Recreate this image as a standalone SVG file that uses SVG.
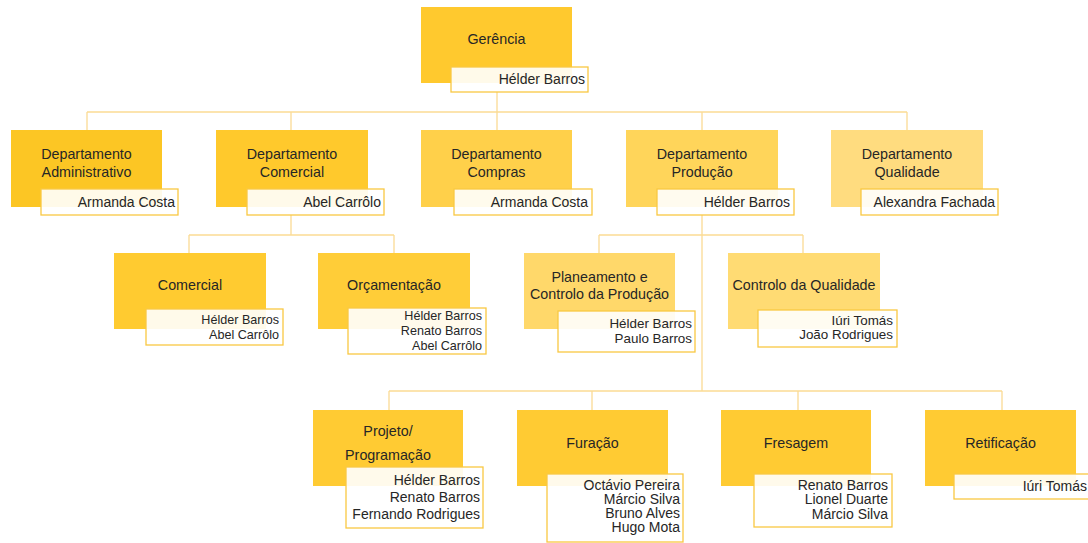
<svg xmlns="http://www.w3.org/2000/svg" width="1088" height="543" viewBox="0 0 1088 543">
<style>
.bg{fill:#ffffff}
.con{fill:none;stroke:#FBDB94;stroke-width:1.3}
.nm{fill:#ffffff;fill-opacity:0.9;stroke:#F9C843;stroke-width:1.3}
.t{font-family:"Liberation Sans",Arial,sans-serif;font-size:14.3px;fill:#262626;text-anchor:middle}
.n{font-family:"Liberation Sans",Arial,sans-serif;font-size:14px;fill:#262626;text-anchor:end}
.s{font-size:12.6px}
.m{font-size:13.4px}
</style>
<rect class="bg" x="0" y="0" width="1088" height="543"/>
<g id="connectors">
<path class="con" d="M497,92 V112 M87,112 H907 M87,112 V130 M291,112 V130 M497,112 V130 M702,112 V130 M907,112 V130"/>
<path class="con" d="M291,215 V235 M189,235 H394 M189,235 V253 M394,235 V253"/>
<path class="con" d="M702,215 V391 M599,235 H803 M599,235 V253 M803,235 V253"/>
<path class="con" d="M389,391 H1002 M389,391 V410 M592,391 V410 M798,391 V410 M1002,391 V410"/>
</g>
<g id="gerencia">
<rect x="421" y="7" width="151" height="76" fill="#FFC92E"/>
<text class="t" x="496.5" y="44">Gerência</text>
<rect class="nm" x="451" y="67" width="137" height="25"/>
<text class="n" x="585" y="84">Hélder Barros</text>
</g>
<g id="dep-administrativo">
<rect x="11" y="130" width="151" height="77" fill="#FCC624"/>
<text class="t" x="86.5" y="159">Departamento</text>
<text class="t" x="86.5" y="177">Administrativo</text>
<rect class="nm" x="41" y="189" width="137" height="26"/>
<text class="n" x="175" y="207">Armanda Costa</text>
</g>
<g id="dep-comercial">
<rect x="216" y="130" width="152" height="77" fill="#FFC92C"/>
<text class="t" x="292" y="159">Departamento</text>
<text class="t" x="292" y="177">Comercial</text>
<rect class="nm" x="247" y="189" width="137" height="26"/>
<text class="n" x="381" y="207">Abel Carrôlo</text>
</g>
<g id="dep-compras">
<rect x="421" y="130" width="151" height="77" fill="#FFD04A"/>
<text class="t" x="496.5" y="159">Departamento</text>
<text class="t" x="496.5" y="177">Compras</text>
<rect class="nm" x="454" y="189" width="138" height="26"/>
<text class="n" x="588" y="207">Armanda Costa</text>
</g>
<g id="dep-producao">
<rect x="626" y="130" width="152" height="77" fill="#FFD55A"/>
<text class="t" x="702" y="159">Departamento</text>
<text class="t" x="702" y="177">Produção</text>
<rect class="nm" x="657" y="189" width="137" height="26"/>
<text class="n" x="790" y="207">Hélder Barros</text>
</g>
<g id="dep-qualidade">
<rect x="831" y="130" width="152" height="77" fill="#FFDC7F"/>
<text class="t" x="907" y="159">Departamento</text>
<text class="t" x="907" y="177">Qualidade</text>
<rect class="nm" x="861" y="189" width="137" height="26"/>
<text class="n" x="995" y="207">Alexandra Fachada</text>
</g>
<g id="comercial">
<rect x="114" y="253" width="152" height="76" fill="#FFCB30"/>
<text class="t" x="190" y="290">Comercial</text>
<rect class="nm" x="146" y="309" width="137" height="36"/>
<text class="n s" x="279" y="324">Hélder Barros</text>
<text class="n s" x="279" y="339">Abel Carrôlo</text>
</g>
<g id="orcamentacao">
<rect x="318" y="253" width="152" height="76" fill="#FFCD38"/>
<text class="t" x="394" y="290">Orçamentação</text>
<rect class="nm" x="348" y="308" width="138" height="46"/>
<text class="n s" x="482" y="320">Hélder Barros</text>
<text class="n s" x="482" y="335">Renato Barros</text>
<text class="n s" x="482" y="350">Abel Carrôlo</text>
</g>
<g id="planeamento">
<rect x="524" y="253" width="151" height="76" fill="#FFD86A"/>
<text class="t" x="599.5" y="282">Planeamento e</text>
<text class="t" x="599.5" y="299">Controlo da Produção</text>
<rect class="nm" x="558" y="311" width="137" height="41"/>
<text class="n m" x="692" y="328">Hélder Barros</text>
<text class="n m" x="692" y="343">Paulo Barros</text>
</g>
<g id="controlo-qualidade">
<rect x="728" y="253" width="152" height="76" fill="#FFDB73"/>
<text class="t" x="804" y="290">Controlo da Qualidade</text>
<rect class="nm" x="758" y="310" width="139" height="37"/>
<text class="n m" x="893" y="325">Iúri Tomás</text>
<text class="n m" x="893" y="339">João Rodrigues</text>
</g>
<g id="projeto">
<rect x="313" y="410" width="150" height="76" fill="#FFCB33"/>
<text class="t" x="388" y="436">Projeto/</text>
<text class="t" x="388" y="460">Programação</text>
<rect class="nm" x="346" y="467" width="137" height="61"/>
<text class="n" x="480" y="485">Hélder Barros</text>
<text class="n" x="480" y="502">Renato Barros</text>
<text class="n" x="480" y="519">Fernando Rodrigues</text>
</g>
<g id="furacao">
<rect x="517" y="410" width="151" height="76" fill="#FFCB33"/>
<text class="t" x="592.5" y="448">Furação</text>
<rect class="nm" x="547" y="474" width="136" height="68"/>
<text class="n" x="680" y="490">Octávio Pereira</text>
<text class="n" x="680" y="504">Márcio Silva</text>
<text class="n" x="680" y="518">Bruno Alves</text>
<text class="n" x="680" y="532">Hugo Mota</text>
</g>
<g id="fresagem">
<rect x="721" y="410" width="150" height="76" fill="#FFCB33"/>
<text class="t" x="796" y="448">Fresagem</text>
<rect class="nm" x="754" y="474" width="138" height="53"/>
<text class="n" x="888" y="490">Renato Barros</text>
<text class="n" x="888" y="504">Lionel Duarte</text>
<text class="n" x="888" y="519">Márcio Silva</text>
</g>
<g id="retificacao">
<rect x="925" y="410" width="151" height="76" fill="#FFCB33"/>
<text class="t" x="1000.5" y="448">Retificação</text>
<rect class="nm" x="954" y="474" width="138" height="25"/>
<text class="n" x="1087" y="491">Iúri Tomás</text>
</g>
</svg>
